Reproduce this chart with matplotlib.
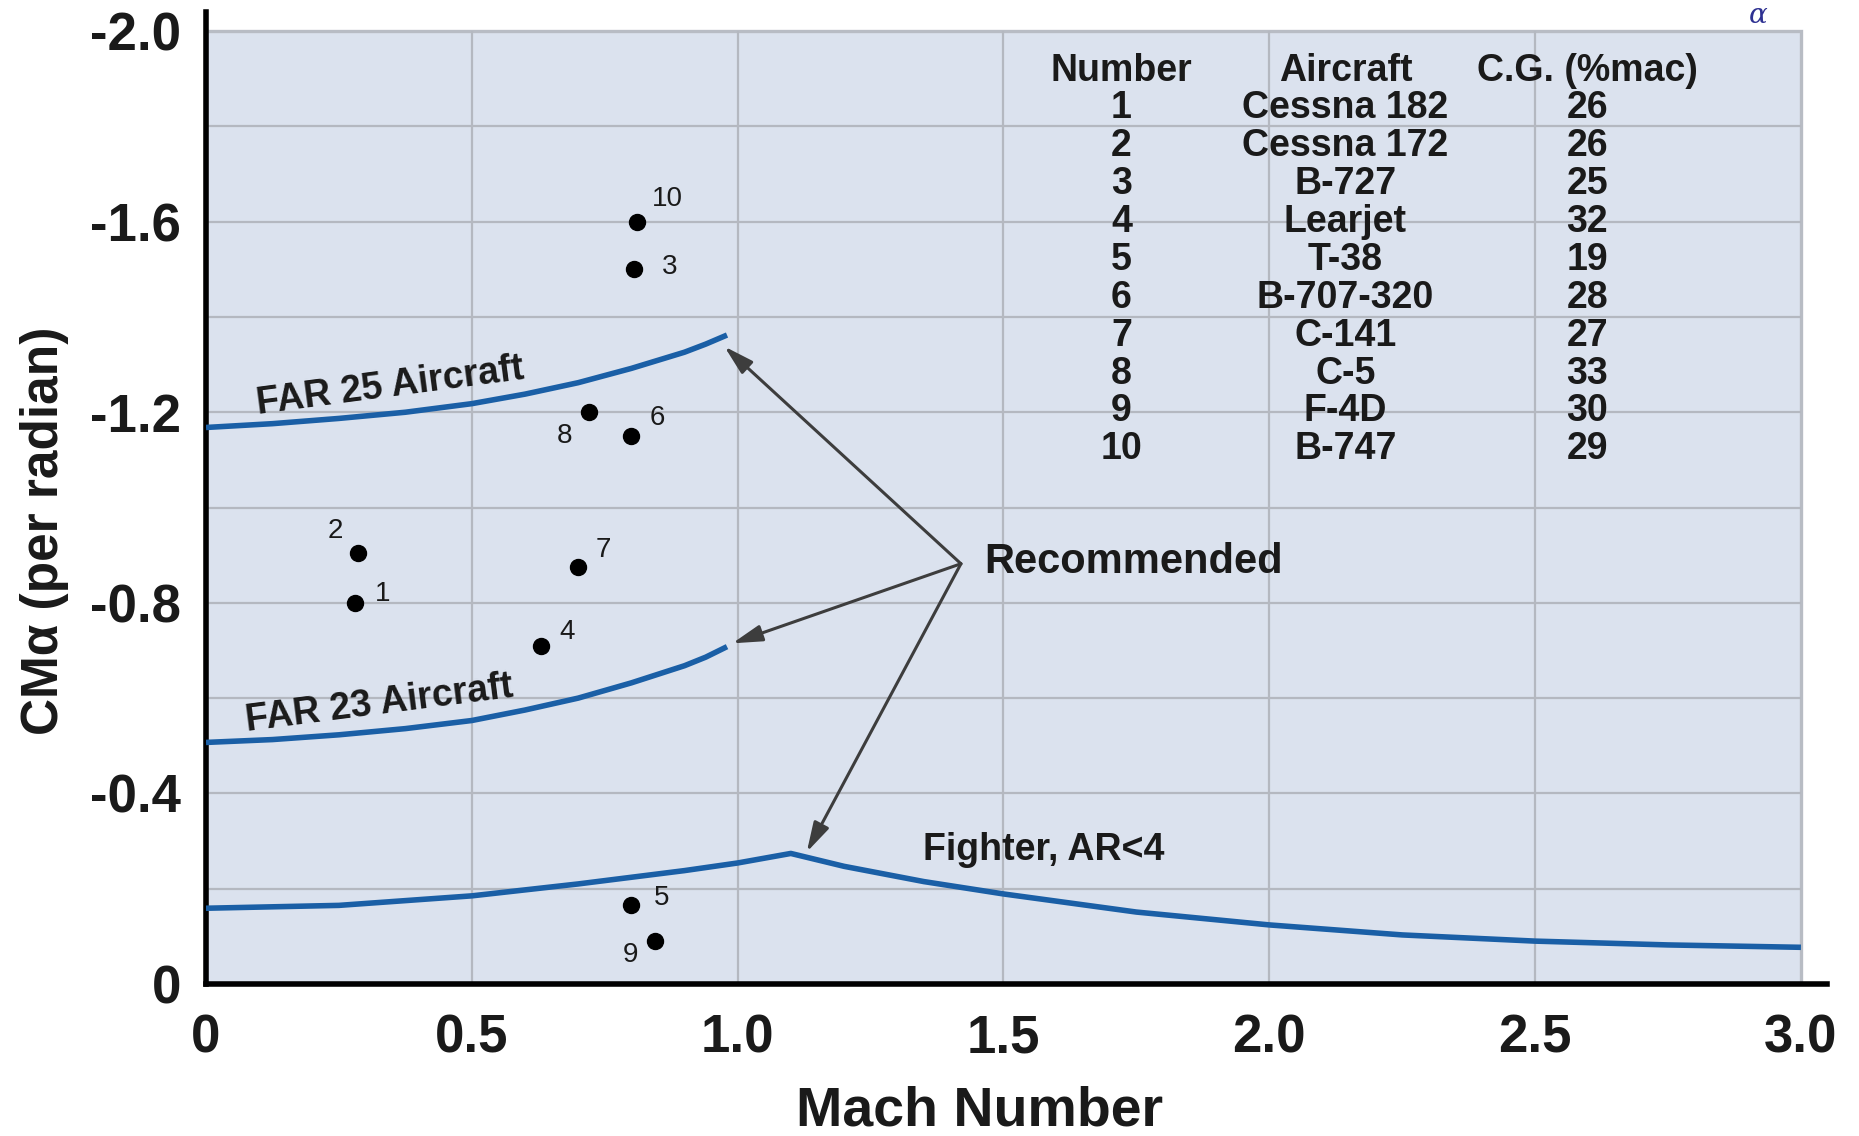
import matplotlib
matplotlib.use("Agg")
import matplotlib.pyplot as plt
from matplotlib.patches import Rectangle

# ---------------- data ----------------
far25_mach = [0.0, 0.125, 0.25, 0.375, 0.5, 0.6, 0.7, 0.8, 0.9, 0.94, 0.98]
far25_cm = [-1.168, -1.176, -1.187, -1.200, -1.218, -1.238, -1.262, -1.292, -1.326, -1.343, -1.362]

far23_mach = [0.0, 0.125, 0.25, 0.375, 0.5, 0.6, 0.7, 0.8, 0.9, 0.94, 0.98]
far23_cm = [-0.507, -0.513, -0.523, -0.536, -0.553, -0.575, -0.600, -0.632, -0.668, -0.686, -0.708]

fighter_mach = [0.0, 0.25, 0.5, 0.7, 0.9, 1.0, 1.1, 1.2, 1.35, 1.5, 1.75, 2.0, 2.25, 2.5, 2.75, 3.0]
fighter_cm = [-0.159, -0.165, -0.185, -0.210, -0.238, -0.254, -0.274, -0.247, -0.215, -0.189,
              -0.151, -0.124, -0.103, -0.090, -0.082, -0.077]

aircraft_num = [1, 2, 3, 4, 5, 6, 7, 8, 9, 10]
aircraft_mach = [0.28, 0.285, 0.805, 0.63, 0.80, 0.80, 0.70, 0.72, 0.845, 0.81]
aircraft_cm = [-0.80, -0.905, -1.50, -0.71, -0.165, -1.15, -0.875, -1.20, -0.09, -1.60]
aircraft_names = ["Cessna 182", "Cessna 172", "B-727", "Learjet", "T-38",
                  "B-707-320", "C-141", "C-5", "F-4D", "B-747"]
aircraft_cg = [26, 26, 25, 32, 19, 28, 27, 33, 30, 29]
table_headers = ["Number", "Aircraft", "C.G. (%mac)"]

x_ticks = [0, 0.5, 1.0, 1.5, 2.0, 2.5, 3.0]
x_tick_labels = ["0", "0.5", "1.0", "1.5", "2.0", "2.5", "3.0"]
y_ticks = [0, -0.4, -0.8, -1.2, -1.6, -2.0]
y_tick_labels = ["0", "-0.4", "-0.8", "-1.2", "-1.6", "-2.0"]
x_grid = [0.5, 1.0, 1.5, 2.0, 2.5]
y_grid = [-0.2, -0.4, -0.6, -0.8, -1.0, -1.2, -1.4, -1.6, -1.8]

recommended_origin = (1.42, -0.882)
recommended_targets = [(0.975, -1.338), (0.99, -0.715), (1.13, -0.277)]

# ---------------- style / layout ----------------
label_offsets_px = {1: (28, 9), 2: (-22, 22), 3: (36, 2), 4: (26, 14), 5: (30, 7),
                    6: (26, 18), 7: (25, 17), 8: (-24, -24), 9: (-25, -14), 10: (31, 23)}
BLUE = "#1a5fa6"
TXT = "#1a1a1a"
W, H = 1859, 1136

plt.rcParams["font.family"] = ["Liberation Sans", "DejaVu Sans"]
plt.rcParams["axes.unicode_minus"] = False

fig = plt.figure(figsize=(W / 100, H / 100), dpi=100)
ax = fig.add_axes([206 / W, 1 - 984 / H, (1827 - 206) / W, (984 - 12) / H])
ax.set_xlim(0, 3.049)
ax.set_ylim(0, -2.04)
ax.set_facecolor("none")

ax.add_patch(Rectangle((0, 0), 3.0, -2.0, facecolor="#dbe2ee", edgecolor="#b8bcc4",
                       lw=2.4, zorder=0))
ax.hlines(y_grid, 0, 3.0, colors="#b4b8c0", lw=1.6, zorder=1)
ax.vlines(x_grid, 0, -2.0, colors="#b4b8c0", lw=1.6, zorder=1)

for s in ["top", "right"]:
    ax.spines[s].set_visible(False)
for s in ["left", "bottom"]:
    ax.spines[s].set_linewidth(4)
    ax.spines[s].set_color("black")

ax.set_xticks(x_ticks, x_tick_labels)
ax.set_yticks(y_ticks, y_tick_labels)
ax.tick_params(axis="both", length=0, labelsize=38, labelcolor=TXT)
ax.tick_params(axis="x", pad=21)
ax.tick_params(axis="y", pad=18)
for lab in ax.get_xticklabels() + ax.get_yticklabels():
    lab.set_fontweight("bold")

# curves
for xs, ys in [(far25_mach, far25_cm), (far23_mach, far23_cm), (fighter_mach, fighter_cm)]:
    ax.plot(xs, ys, color=BLUE, lw=4.0, solid_capstyle="butt", solid_joinstyle="round",
            zorder=3)

# aircraft points
ax.plot(aircraft_mach, aircraft_cm, "o", color="black", ms=11.5, zorder=4)
for n, mx, cm in zip(aircraft_num, aircraft_mach, aircraft_cm):
    dx, dy = label_offsets_px[n]
    ax.annotate(str(n), (mx, cm), xytext=(dx, dy), textcoords="offset pixels",
                ha="center", va="center", fontsize=20, color=TXT, zorder=5)

# curve labels
ax.text(0.098, -1.197, "FAR 25 Aircraft", rotation=7.5, rotation_mode="anchor",
        ha="left", va="baseline", fontsize=27, fontweight="bold", color=TXT, zorder=5)
ax.text(0.078, -0.530, "FAR 23 Aircraft", rotation=7.3, rotation_mode="anchor",
        ha="left", va="baseline", fontsize=27, fontweight="bold", color=TXT, zorder=5)
ax.text(1.348, -0.260, "Fighter, AR<4", ha="left", va="baseline", fontsize=27,
        fontweight="bold", color=TXT, zorder=5)

# recommended arrows
ax.text(1.463, -0.885, "Recommended", ha="left", va="center", fontsize=30,
        fontweight="bold", color=TXT, zorder=5)
for tgt in recommended_targets:
    ax.annotate("", xy=tgt, xytext=recommended_origin,
                arrowprops=dict(arrowstyle="-|>,head_length=0.9,head_width=0.25",
                                color="#3d3d3d", lw=2.2, shrinkA=0, shrinkB=0,
                                mutation_scale=20), zorder=5)

# table
col_x = [1.722, 2.143, 2.598]
header_base = -1.895
row_base0 = -1.8167
row_step = 0.0795
for cx, h in zip(col_x, table_headers):
    ax.text(cx, header_base, h, ha="center", va="baseline", fontsize=27,
            fontweight="bold", color=TXT, zorder=5)
for i, (n, name, cg) in enumerate(zip(aircraft_num, aircraft_names, aircraft_cg)):
    yb = row_base0 + i * row_step
    for cx, t in zip(col_x, [str(n), name, str(cg)]):
        ax.text(cx, yb, t, ha="center", va="baseline", fontsize=27,
                fontweight="bold", color=TXT, zorder=5)

# axis titles
fig.text(45 / W, 1 - 531 / H, "CMα (per radian)", rotation=90, ha="center", va="center",
         fontsize=37, fontweight="bold", color=TXT)
fig.text(980 / W, 10 / H, "Mach Number", ha="center", va="baseline", fontsize=40,
         fontweight="bold", color=TXT)

# small glyph at the top right corner
fig.text(1758 / W, 1 - 2 / H, "α", ha="center", va="top", fontsize=20,
         family="DejaVu Serif", style="italic", color="#2e3192")

fig.savefig("out.png", dpi=100)
